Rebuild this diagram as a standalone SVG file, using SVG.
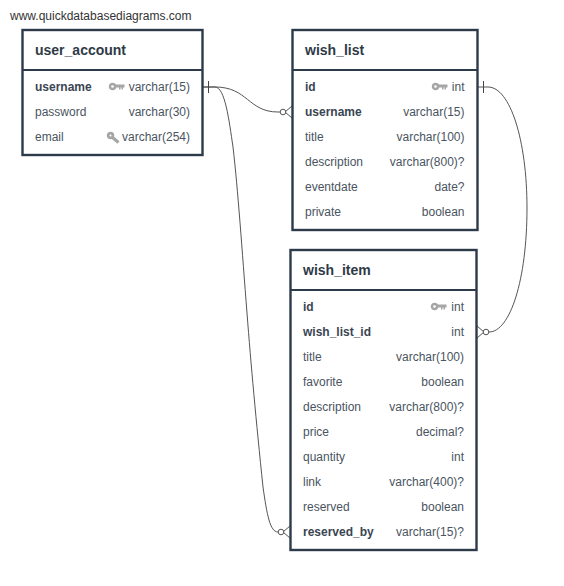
<svg xmlns="http://www.w3.org/2000/svg" width="564" height="586" viewBox="0 0 564 586">
<style>
text{font-family:"Liberation Sans",Arial,sans-serif;font-size:12px;fill:#4a5460}
.t{font-weight:700;font-size:14px;fill:#2f3a47}
.b{font-weight:700;fill:#3a4552}
.r{text-anchor:end}
.box{fill:#fff;stroke:#2d3a4a;stroke-width:2.4}
.div{stroke:#2d3a4a;stroke-width:2;fill:none}
.c{fill:none;stroke:#555;stroke-width:1}
.k{fill:#a6a6a6}
.u{font-size:12px;fill:#333}
</style>
<defs>
<g id="pk"><circle cx="3.500" cy="3.500" r="3" fill="#a6a6a6" stroke="#a6a6a6" stroke-width="1.500"/><circle cx="3.500" cy="3.500" r="1.300" fill="#fff"/><path class="k" d="M6 1.500h9.500v3h-1.500v2h-1.500v-2h-1v2h-1.500v-2H6z"/></g>
<g id="uk"><circle cx="3.500" cy="3.500" r="3" fill="#a6a6a6" stroke="#a6a6a6" stroke-width="1.500"/><circle cx="3.500" cy="3.500" r="1" fill="#fff"/><path d="M5.500 5.500L11.500 10.500" stroke="#a6a6a6" stroke-width="3.200" fill="none"/></g>
</defs>
<text class="u" x="10" y="20">www.quickdatabasediagrams.com</text>
<g id="connectors">
<path class="c" d="M203 87H215C248 87 248 112 278 112H281"/>
<path class="c" d="M203 87H215C225 87 229 120 233 147C238 190 242 250 247 313C251 365 256 420 263 487C267 515 270 532 278 532"/>
<path class="c" d="M478 87H488C510 87 527 140 527 208C527 280 510 332 489 332"/>
<path d="M208.500 81V93" stroke="#444" fill="none"/>
<path d="M483.500 81V93" stroke="#444" fill="none"/>
<path class="c" d="M292 106L285 112L292 118M290 526L283 532L290 538M477 326L484 332L477 338"/>
<g fill="#fff" stroke="#555"><circle cx="283" cy="112" r="2.800"/><circle cx="281" cy="532" r="2.800"/><circle cx="486" cy="332" r="2.800"/></g>
</g>
<g id="user_account">
<rect class="box" x="22.500" y="30" width="180" height="125"/><path class="div" d="M22 70H203"/>
<text class="t" x="35" y="55">user_account</text>
<text class="b" x="35" y="91">username</text><text class="r" x="190" y="91">varchar(15)</text><use href="#pk" x="109" y="83"/>
<text x="35" y="116">password</text><text class="r" x="190" y="116">varchar(30)</text>
<text x="35" y="141">email</text><text class="r" x="190" y="141">varchar(254)</text><use href="#uk" x="107" y="132"/>
</g>
<g id="wish_list">
<rect class="box" x="292.500" y="30" width="185" height="200"/><path class="div" d="M292 70H478"/>
<text class="t" x="305" y="55">wish_list</text>
<text class="b" x="305" y="91">id</text><text class="r" x="464.500" y="91">int</text><use href="#pk" x="432" y="83"/>
<text class="b" x="305" y="116">username</text><text class="r" x="464.500" y="116">varchar(15)</text>
<text x="305" y="141">title</text><text class="r" x="464.500" y="141">varchar(100)</text>
<text x="305" y="166">description</text><text class="r" x="464.500" y="166">varchar(800)?</text>
<text x="305" y="191">eventdate</text><text class="r" x="464.500" y="191">date?</text>
<text x="305" y="216">private</text><text class="r" x="464.500" y="216">boolean</text>
</g>
<g id="wish_item">
<rect class="box" x="290.500" y="250" width="186" height="300"/><path class="div" d="M290 290H477"/>
<text class="t" x="303" y="275">wish_item</text>
<text class="b" x="303" y="311">id</text><text class="r" x="464" y="311">int</text><use href="#pk" x="431" y="303"/>
<text class="b" x="303" y="336">wish_list_id</text><text class="r" x="464" y="336">int</text>
<text x="303" y="361">title</text><text class="r" x="464" y="361">varchar(100)</text>
<text x="303" y="386">favorite</text><text class="r" x="464" y="386">boolean</text>
<text x="303" y="411">description</text><text class="r" x="464" y="411">varchar(800)?</text>
<text x="303" y="436">price</text><text class="r" x="464" y="436">decimal?</text>
<text x="303" y="461">quantity</text><text class="r" x="464" y="461">int</text>
<text x="303" y="486">link</text><text class="r" x="464" y="486">varchar(400)?</text>
<text x="303" y="511">reserved</text><text class="r" x="464" y="511">boolean</text>
<text class="b" x="303" y="536">reserved_by</text><text class="r" x="464" y="536">varchar(15)?</text>
</g>
</svg>
